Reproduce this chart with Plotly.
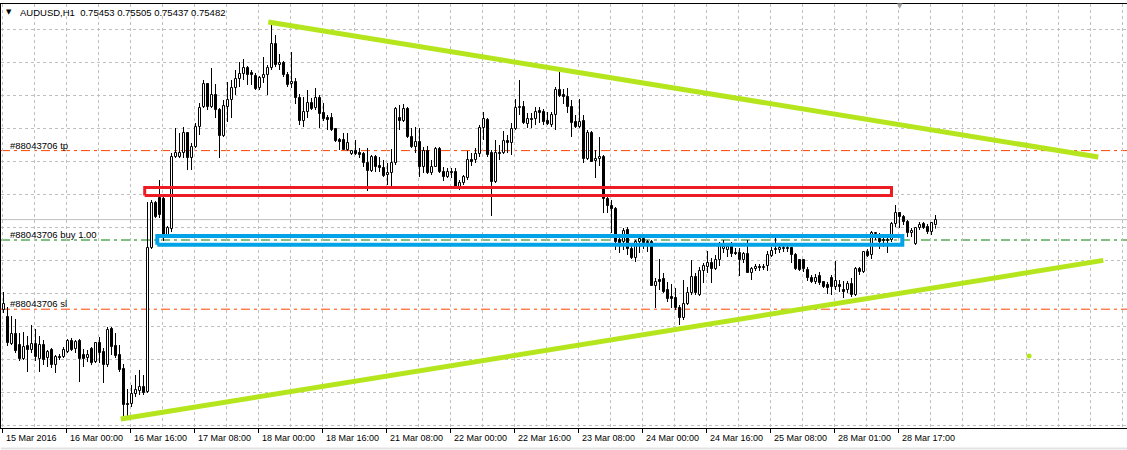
import plotly.graph_objects as go

# ---------------- data (prices in points, 1 point = 0.00001) ----------------
title_text = "AUDUSD,H1  0.75453 0.75505 0.75437 0.75482"

time_labels = ["15 Mar 2016", "16 Mar 00:00", "16 Mar 16:00", "17 Mar 08:00", "18 Mar 00:00",
               "18 Mar 16:00", "21 Mar 08:00", "22 Mar 00:00", "22 Mar 16:00", "23 Mar 08:00",
               "24 Mar 00:00", "24 Mar 16:00", "25 Mar 08:00", "28 Mar 01:00", "28 Mar 17:00"]
label_bars = [0, 16, 32, 48, 64, 80, 96, 112, 128, 144, 160, 176, 192, 208, 224]

open_pts = [
    75030, 74995, 74860, 74910, 74855, 74785, 74850, 74830, 74860, 74785,
    74855, 74790, 74830, 74755, 74795, 74795, 74820, 74875, 74835, 74875,
    74805, 74790, 74835, 74770, 74865, 74820, 74755, 74935, 74850, 74805,
    74735, 74560, 74560, 74610, 74625, 74645, 74620, 75340, 75565, 75590,
    75585, 75405, 75435, 75795, 75795, 75815, 75915, 75790, 75845, 75945,
    76045, 76160, 76045, 76105, 76030, 75900, 76045, 76080, 76140, 76185,
    76210, 76240, 76215, 76200, 76140, 76190, 76205, 76240, 76360, 76255,
    76265, 76205, 76160, 76170, 76090, 75975, 76020, 76065, 76040, 76090,
    76015, 75990, 75990, 75935, 75880, 75880, 75830, 75810, 75825, 75815,
    75810, 75765, 75725, 75795, 75750, 75740, 75705, 75715, 75765, 75990,
    75975, 76035, 75895, 75845, 75870, 75745, 75825, 75715, 75745, 75835,
    75720, 75695, 75720, 75720, 75635, 75665, 75690, 75780, 75780, 75810,
    75940, 75980, 75815, 75670, 75815, 75815, 75875, 75865, 75935, 76040,
    76045, 75960, 75985, 75985, 76025, 76020, 75975, 75955, 76005, 76130,
    76105, 76095, 76045, 75970, 75945, 75975, 75785, 75915, 75775, 75785,
    75795, 75585, 75550, 75535, 75380, 75370, 75430, 75335, 75290, 75370,
    75385, 75370, 75370, 75150, 75180, 75185, 75130, 75095, 75090, 75040,
    74990, 75060, 75115, 75195, 75105, 75225, 75245, 75265, 75235, 75280,
    75335, 75330, 75350, 75315, 75315, 75280, 75310, 75215, 75235, 75245,
    75240, 75250, 75300, 75330, 75330, 75335, 75335, 75340, 75305, 75280,
    75280, 75230, 75190, 75170, 75200, 75170, 75155, 75190, 75145, 75155,
    75130, 75130, 75160, 75105, 75235, 75220, 75320, 75305, 75410, 75385,
    75380, 75380, 75380, 75460, 75515, 75495, 75470, 75415, 75360, 75440,
    75460, 75445, 75420, 75453]

high_pts = [
    75120, 75045, 75000, 74985, 74915, 74920, 74900, 74955, 74935, 74900,
    74880, 74830, 74840, 74805, 74810, 74845, 74885, 74890, 74880, 74885,
    74835, 74830, 74845, 74870, 74895, 74840, 74945, 74945, 74915, 74855,
    74760, 74635, 74655, 74705, 74730, 74705, 75570, 75580, 75575, 75680,
    75600, 75450, 75815, 75940, 75915, 75945, 75920, 75865, 75965, 76065,
    76180, 76165, 76240, 76160, 76040, 76080, 76170, 76180, 76230, 76270,
    76285, 76250, 76230, 76215, 76200, 76295, 76255, 76460, 76405, 76310,
    76275, 76220, 76320, 76190, 76110, 76095, 76130, 76090, 76140, 76105,
    76065, 76005, 76015, 75940, 75890, 75915, 75915, 75830, 75880, 75840,
    75820, 75840, 75805, 75805, 75795, 75780, 75765, 75835, 76045, 76055,
    76060, 76045, 75940, 75945, 75940, 75845, 75850, 75780, 75845, 75845,
    75745, 75740, 75740, 75740, 75680, 75705, 75825, 75815, 75840, 75955,
    76020, 75990, 75830, 75880, 75855, 75925, 75905, 75965, 76085, 76180,
    76075, 76015, 76015, 76045, 76045, 76035, 76020, 76020, 76145, 76220,
    76135, 76140, 76080, 76005, 76085, 76005, 75930, 75925, 75830, 75895,
    75805, 75595, 75580, 75545, 75390, 75440, 75445, 75355, 75380, 75390,
    75395, 75380, 75380, 75190, 75285, 75215, 75170, 75160, 75140, 75055,
    75180, 75145, 75280, 75215, 75245, 75265, 75325, 75290, 75305, 75370,
    75380, 75365, 75370, 75340, 75340, 75320, 75380, 75245, 75260, 75260,
    75260, 75325, 75345, 75390, 75350, 75355, 75350, 75345, 75315, 75285,
    75285, 75245, 75205, 75210, 75220, 75175, 75170, 75205, 75275, 75180,
    75175, 75175, 75190, 75245, 75245, 75325, 75335, 75425, 75420, 75415,
    75395, 75390, 75470, 75555, 75520, 75505, 75480, 75440, 75445, 75470,
    75470, 75460, 75470, 75505]

low_pts = [
    75015, 74850, 74855, 74815, 74775, 74780, 74720, 74815, 74775, 74720,
    74755, 74745, 74740, 74715, 74780, 74790, 74815, 74825, 74815, 74670,
    74745, 74770, 74755, 74765, 74765, 74665, 74745, 74805, 74790, 74720,
    74495, 74495, 74545, 74595, 74605, 74605, 74615, 75335, 75490, 75490,
    75375, 75395, 75420, 75790, 75790, 75790, 75730, 75730, 75840, 75905,
    76040, 76030, 76040, 75990, 75790, 75895, 75970, 75990, 76105, 76145,
    76180, 76155, 76155, 76130, 76130, 76165, 76105, 76230, 76245, 76230,
    76195, 76145, 76140, 76060, 75955, 75945, 75990, 76030, 76030, 75940,
    75975, 75930, 75925, 75870, 75830, 75830, 75825, 75805, 75805, 75790,
    75745, 75625, 75720, 75720, 75720, 75695, 75655, 75650, 75755, 75930,
    75970, 75890, 75840, 75815, 75695, 75715, 75710, 75705, 75745, 75715,
    75675, 75690, 75690, 75635, 75630, 75655, 75680, 75750, 75765, 75795,
    75880, 75795, 75500, 75665, 75780, 75810, 75815, 75805, 75930, 76005,
    75960, 75940, 75940, 75955, 75965, 75955, 75955, 75945, 75930, 76095,
    76060, 76015, 75895, 75940, 75940, 75765, 75780, 75770, 75690, 75750,
    75515, 75515, 75415, 75330, 75315, 75330, 75305, 75285, 75270, 75315,
    75335, 75320, 75150, 75040, 75130, 75115, 75070, 75040, 75030, 74955,
    74980, 75055, 75105, 75105, 75100, 75165, 75215, 75165, 75230, 75250,
    75315, 75295, 75295, 75305, 75200, 75265, 75215, 75180, 75225, 75225,
    75230, 75225, 75295, 75310, 75315, 75320, 75320, 75265, 75230, 75225,
    75220, 75175, 75165, 75160, 75155, 75140, 75110, 75105, 75130, 75120,
    75090, 75115, 75095, 75100, 75205, 75215, 75295, 75285, 75380, 75335,
    75345, 75315, 75370, 75445, 75440, 75455, 75395, 75395, 75355, 75430,
    75435, 75410, 75405, 75437]

close_pts = [
    75060, 74865, 74910, 74825, 74785, 74845, 74830, 74860, 74795, 74855,
    74780, 74820, 74755, 74795, 74790, 74830, 74875, 74830, 74870, 74785,
    74785, 74805, 74765, 74865, 74815, 74755, 74930, 74845, 74800, 74730,
    74555, 74555, 74610, 74630, 74645, 74615, 75340, 75565, 75495, 75505,
    75405, 75440, 75795, 75815, 75815, 75915, 75790, 75845, 75945, 76040,
    76160, 76045, 76105, 76030, 75900, 76050, 76080, 76140, 76185, 76210,
    76240, 76205, 76205, 76135, 76190, 76205, 76240, 76360, 76255, 76265,
    76205, 76155, 76170, 76090, 75975, 76020, 76065, 76035, 76090, 76010,
    75985, 75980, 75930, 75875, 75870, 75830, 75865, 75825, 75810, 75805,
    75765, 75725, 75795, 75745, 75740, 75700, 75715, 75765, 76035, 75975,
    76035, 75895, 75845, 75870, 75745, 75825, 75715, 75745, 75835, 75720,
    75695, 75720, 75715, 75635, 75665, 75695, 75780, 75770, 75810, 75940,
    75985, 75805, 75670, 75815, 75810, 75875, 75865, 75935, 76040, 76045,
    75965, 75985, 75980, 76020, 76015, 75970, 75960, 76005, 76130, 76100,
    76095, 76045, 75965, 75945, 75970, 75785, 75915, 75770, 75785, 75795,
    75585, 75550, 75535, 75370, 75365, 75425, 75335, 75290, 75370, 75385,
    75365, 75365, 75150, 75170, 75170, 75120, 75085, 75085, 75040, 74990,
    75060, 75115, 75195, 75115, 75225, 75250, 75265, 75235, 75280, 75350,
    75345, 75345, 75310, 75310, 75280, 75310, 75215, 75235, 75245, 75240,
    75245, 75305, 75325, 75335, 75340, 75340, 75340, 75305, 75235, 75230,
    75235, 75190, 75170, 75190, 75165, 75145, 75140, 75145, 75175, 75145,
    75120, 75160, 75105, 75235, 75220, 75320, 75300, 75415, 75415, 75370,
    75375, 75375, 75460, 75515, 75495, 75470, 75415, 75425, 75440, 75455,
    75440, 75420, 75465, 75482]

# order levels and last bid
order_id = "#88043706"
tp_price = 0.75827
buy_price = 0.75380
sl_price = 0.75034
bid_price = 0.75482

# hand-drawn objects (bar index, price)
upper_trend_x = [66.2, 273.7]
upper_trend_y = [0.76470, 0.75795]
lower_trend_x = [29.3, 274.95]
lower_trend_y = [0.74485, 0.75278]
dot_x = [256.4]
dot_y = [0.74800]
red_box_x = [35.3, 222.0]
red_box_y = [0.756025, 0.756425]
blue_box_x = [38.45, 224.7]
blue_box_y = [0.753565, 0.75400]

# ---------------- build ----------------
P = lambda v: v / 100000.0
opens = [P(v) for v in open_pts]
highs = [P(v) for v in high_pts]
lows = [P(v) for v in low_pts]
closes = [P(v) for v in close_pts]
n = len(opens)
bars = list(range(n))

body_lo = [min(o, c) for o, c in zip(opens, closes)]
body_hi = [max(o, c) for o, c in zip(opens, closes)]
body_h = [max(h - l, 0.000012) for h, l in zip(body_hi, body_lo)]
body_col = ["white" if c >= o else "black" for o, c in zip(opens, closes)]

wx, wy = [], []
for i in bars:
    wx += [i, i, None, i, i, None]
    wy += [highs[i], body_hi[i], None, body_lo[i], lows[i], None]

LIME = "#b5e61d"
FONT = "Liberation Sans, Arial, sans-serif"

fig = go.Figure()
fig.add_trace(go.Bar(x=bars, y=body_h, base=body_lo, width=0.5,
                     marker=dict(color=body_col, line=dict(color="black", width=1)),
                     hoverinfo="skip"))
fig.add_trace(go.Scatter(x=wx, y=wy, mode="lines", line=dict(color="black", width=1),
                         hoverinfo="skip"))


def box(xs, ys):
    return [xs[0], xs[1], xs[1], xs[0], xs[0]], [ys[0], ys[0], ys[1], ys[1], ys[0]]


rx, ry = box(red_box_x, red_box_y)
fig.add_trace(go.Scatter(x=rx, y=ry, mode="lines", line=dict(color="#ed1c24", width=3)))
bx, by = box(blue_box_x, blue_box_y)
fig.add_trace(go.Scatter(x=bx, y=by, mode="lines", line=dict(color="#00a2e8", width=4)))
fig.add_trace(go.Scatter(x=upper_trend_x, y=upper_trend_y, mode="lines",
                         line=dict(color=LIME, width=5)))
fig.add_trace(go.Scatter(x=lower_trend_x, y=lower_trend_y, mode="lines",
                         line=dict(color=LIME, width=5)))
fig.add_trace(go.Scatter(x=dot_x, y=dot_y, mode="markers",
                         marker=dict(color=LIME, size=5)))

# horizontal levels
dashdot = "9px,4px,3px,4px"
for price, col, dash in [(bid_price, "#c0c0c0", "solid"), (tp_price, "#ff4500", dashdot),
                         (sl_price, "#ff4500", dashdot), (buy_price, "#008000", dashdot)]:
    fig.add_shape(type="line", xref="paper", x0=0, x1=1, yref="y", y0=price, y1=price,
                  line=dict(color=col, width=1, dash=dash), layer="below")

for price, txt in [(tp_price, order_id + " tp"), (buy_price, order_id + " buy 1.00"),
                   (sl_price, order_id + " sl")]:
    fig.add_annotation(xref="paper", x=7 / 1126, yref="y", y=price, yshift=5.5,
                       text=txt, showarrow=False, xanchor="left", yanchor="middle",
                       font=dict(family=FONT, size=9.5, color="black"))

# time labels
for b, t in zip(label_bars, time_labels):
    fig.add_annotation(xref="x", x=b - 0.25, xshift=1, yref="paper", y=-10 / 424,
                       text=t, showarrow=False, xanchor="left", yanchor="middle",
                       font=dict(family=FONT, size=9, color="black"))

# header
fig.add_annotation(xref="paper", x=17 / 1126, yref="paper", y=1 - 8.5 / 424,
                   text=title_text, showarrow=False, xanchor="left", yanchor="middle",
                   font=dict(family=FONT, size=9.5, color="black"))
fig.add_annotation(xref="paper", x=8 / 1126, yref="paper", y=1 - 7.5 / 424,
                   text="▼", showarrow=False, xanchor="center", yanchor="middle",
                   font=dict(family="DejaVu Sans", size=7, color="black"))
fig.add_annotation(xref="paper", x=899 / 1126, yref="paper", y=1 - 2 / 424,
                   text="▼", showarrow=False, xanchor="center", yanchor="middle",
                   font=dict(family="DejaVu Sans", size=7, color="#a0a0a0"))

# window bottom edge
fig.add_shape(type="line", xref="paper", x0=0, x1=1, yref="paper",
              y0=-20.5 / 424, y1=-20.5 / 424, line=dict(color="#e3e3e3", width=2))

grid_prices = [0.764335 - 0.00165 * k for k in range(13)]
GRID = "#c0c0c0"
fig.update_layout(
    width=1127, height=450, margin=dict(l=1, r=0, t=4, b=22, autoexpand=False),
    paper_bgcolor="white", plot_bgcolor="white", showlegend=False,
    barmode="overlay", bargap=0, hovermode=False,
)
fig.update_xaxes(range=[-0.625, 280.875], showline=True, mirror=True, linecolor="black",
                 linewidth=1, tickmode="array", tickvals=[b - 0.25 for b in label_bars],
                 ticks="outside", ticklen=4, tickcolor="black", tickwidth=1,
                 showticklabels=False, showgrid=True, gridcolor=GRID, griddash="3px,3px",
                 gridwidth=1, zeroline=False, automargin=False,
                 minor=dict(tick0=-0.25, dtick=8, showgrid=True, gridcolor=GRID,
                            griddash="3px,3px", gridwidth=1, ticks=""))
fig.update_yaxes(range=[0.74440, 0.76560], showline=True, mirror=False, linecolor="black",
                 linewidth=1, tickmode="array", tickvals=grid_prices, ticks="",
                 showticklabels=False, showgrid=True, gridcolor=GRID, griddash="3px,3px",
                 gridwidth=1, zeroline=False, automargin=False)

fig.write_html("out.html", config={"displayModeBar": False},
               post_script="document.body.style.margin='0';document.body.style.overflow='hidden';")
